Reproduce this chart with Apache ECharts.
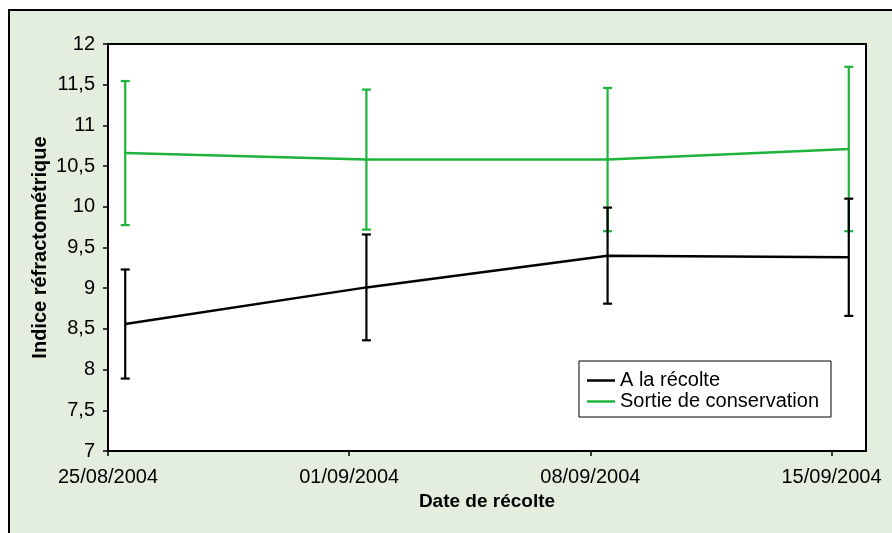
<!DOCTYPE html>
<html><head><meta charset="utf-8">
<script src="https://cdn.jsdelivr.net/npm/echarts@6/dist/echarts.min.js"></script>
<style>html,body{margin:0;padding:0;background:#fff}#c{width:892px;height:533px}</style>
</head><body><div id="c"></div>
<script>
// ---- data ----
const dates = ['25/08/2004', '01/09/2004', '08/09/2004', '15/09/2004'];
const xTickLabels = ['25/08/2004', '01/09/2004', '08/09/2004', '15/09/2004'];
const yTickLabels = ['7', '7,5', '8', '8,5', '9', '9,5', '10', '10,5', '11', '11,5', '12'];
const recolte = [8.56, 9.01, 9.40, 9.38];
const recolteErr = [0.67, 0.65, 0.59, 0.72];
const sortie = [10.66, 10.58, 10.58, 10.71];
const sortieErr = [0.885, 0.86, 0.88, 1.01];
const seriesNames = ['A la récolte', 'Sortie de conservation'];

// ---- helpers ----
function toDay(s) { const p = s.split('/'); return Date.UTC(+p[2], +p[1] - 1, +p[0]) / 86400000; }
const day0 = toDay(xTickLabels[0]);
const xs = dates.map(d => toDay(d) - day0 + 0.5); // points centred in their day slot
const FONT = 'Liberation Sans, Arial, sans-serif';
const GREEN = '#1EB43C';

function errData(vals, errs) { return vals.map((v, i) => [xs[i], v - errs[i], v + errs[i]]); }
function errRenderer(color) {
  return function (params, api) {
    const x = api.value(0), lo = api.value(1), hi = api.value(2);
    const a = api.coord([x, lo]), b = api.coord([x, hi]);
    const hw = 4.5;
    const style = { stroke: color, lineWidth: 2.2 };
    return { type: 'group', children: [
      { type: 'line', shape: { x1: a[0], y1: a[1], x2: b[0], y2: b[1] }, style },
      { type: 'line', shape: { x1: a[0] - hw, y1: a[1], x2: a[0] + hw, y2: a[1] }, style },
      { type: 'line', shape: { x1: b[0] - hw, y1: b[1], x2: b[0] + hw, y2: b[1] }, style }
    ]};
  };
}

const chart = echarts.init(document.getElementById('c'), null, { renderer: 'canvas' });
chart.setOption({
  backgroundColor: '#ffffff',
  animation: false,
  textStyle: { fontFamily: FONT },
  graphic: [{
    type: 'rect', z: -10, silent: true,
    shape: { x: 9, y: 10, width: 900, height: 540 },
    style: { fill: '#E3EEDF', stroke: '#000', lineWidth: 2 }
  }],
  grid: { left: 108, top: 44, right: 26, bottom: 82, show: true, backgroundColor: '#fff', borderColor: '#000', borderWidth: 2 },
  legend: {
    data: seriesNames, orient: 'vertical', left: 579, top: 361,
    padding: [9, 12, 5, 8], itemGap: 0, itemWidth: 28, itemHeight: 2.5, itemTextGap: 5,
    icon: 'rect', backgroundColor: '#fff', borderColor: '#000', borderWidth: 1,
    textStyle: { fontSize: 20, color: '#000', fontFamily: FONT, lineHeight: 21 },
    itemStyle: { borderWidth: 0 }
  },
  xAxis: {
    type: 'value', min: 0, max: 22, interval: 7,
    name: 'Date de récolte', nameLocation: 'middle', nameGap: 41,
    nameTextStyle: { fontSize: 19, fontWeight: 'bold', color: '#000', fontFamily: FONT },
    axisLine: { show: true, lineStyle: { color: '#000', width: 2 } },
    axisTick: { show: true, length: 5, lineStyle: { color: '#000', width: 1.5 }, customValues: [0, 7, 14, 21] },
    axisLabel: { fontSize: 20, color: '#000', margin: 16, customValues: [0, 7, 14, 21],
      formatter: v => { const i = Math.round(v / 7); return xTickLabels[i] || ''; } },
    splitLine: { show: false }
  },
  yAxis: {
    type: 'value', min: 7, max: 12, interval: 0.5,
    name: 'Indice réfractométrique', nameLocation: 'middle', nameGap: 58, nameRotate: 90,
    nameMoveOverlap: false,
    nameTextStyle: { fontSize: 20, fontWeight: 'bold', color: '#000', fontFamily: FONT },
    axisLine: { show: true, lineStyle: { color: '#000', width: 2 } },
    axisTick: { show: true, length: 5, lineStyle: { color: '#000', width: 1.5 } },
    axisLabel: { fontSize: 20, color: '#000', margin: 13,
      formatter: v => yTickLabels[Math.round((v - 7) / 0.5)] },
    splitLine: { show: false }
  },
  series: [
    { name: seriesNames[0], type: 'line', data: recolte.map((v, i) => [xs[i], v]), symbol: 'none',
      lineStyle: { color: '#000', width: 2.5 }, itemStyle: { color: '#000' }, z: 3 },
    { name: seriesNames[1], type: 'line', data: sortie.map((v, i) => [xs[i], v]), symbol: 'none',
      lineStyle: { color: GREEN, width: 2.5 }, itemStyle: { color: GREEN }, z: 3 },
    { name: 'errS', type: 'custom', renderItem: errRenderer(GREEN), data: errData(sortie, sortieErr), z: 4 },
    { name: 'errR', type: 'custom', renderItem: errRenderer('#000'), data: errData(recolte, recolteErr), z: 5 }
  ]
});
</script>
</body></html>
